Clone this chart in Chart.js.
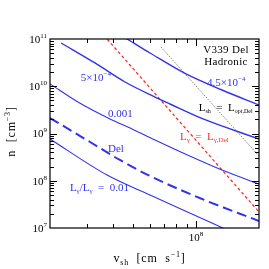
<!DOCTYPE html>
<html>
<head>
<meta charset="utf-8">
<script src="https://cdn.jsdelivr.net/npm/chart.js@4.4.1/dist/chart.umd.min.js"></script>
<style>
  html, body { margin: 0; padding: 0; background: #fff; }
  #wrap { width: 269px; height: 269px; }
</style>
</head>
<body>
<div id="wrap"><canvas id="shockChart" width="269" height="269"></canvas></div>
<script>
// shock velocity v_sh [cm/s] and density n [cm^-3]
const vRatio45 = [4.09e7, 4.67e7, 6.02e7, 8.95e7, 1.33e8, 2.0e8];
const nRatio45 = [1.41e11, 1.0e11, 5.06e10, 1.82e10, 8.33e9, 4.01e9];

const vRatio5 = [2.26e7, 3.28e7, 4.57e7, 6.36e7, 7.50e7, 1.08e8, 2.0e8];
const nRatio5 = [8.23e10, 3.11e10, 1.23e10, 5.92e9, 4.21e9, 2.03e9, 7.65e8];

const vRatio10 = [2.0e7, 2.72e7, 3.79e7, 5.05e7, 6.36e7, 8.66e7, 1.33e8, 2.0e8];
const nRatio10 = [1.12e10, 4.64e9, 2.13e9, 1.19e9, 7.29e8, 3.87e8, 1.69e8, 8.54e7];

const vDel = [2.0e7, 3.11e7, 4.32e7, 6.02e7, 1.04e8, 2.0e8];
const nDel = [2.13e9, 6.61e8, 2.75e8, 1.26e8, 4.31e7, 1.41e7];

const vRatio100 = [2.0e7, 3.75e7, 6.02e7, 1.19e8, 1.375e8];
const nRatio100 = [7.65e8, 1.32e8, 4.99e7, 1.28e7, 9.5e6];

const vGammaDel = [3.47e7, 2.0e8];
const nGammaDel = [1.48e11, 2.18e7];

const vShOpt = [6.79e7, 2.0e8];
const nShOpt = [6.77e10, 3.34e8];

// axis ranges and tick labels
const xMin = 2e7, xMax = 2e8;
const yMin = 1e7, yMax = 1e11;
const xMajorTicks = [1e8];
const xTickLabels = ['10^{8}'];
const yMajorTicks = [1e7, 1e8, 1e9, 1e10, 1e11];
const yTickLabels = ['10^{7}', '10^{8}', '10^{9}', '10^{10}', '10^{11}'];

const BLUE = 'rgb(50,50,238)';
const RED = 'rgb(255,45,45)';
const FONT = '"Liberation Serif", "Times New Roman", serif';

function pts(vs, ns) {
    return vs.map((v, i) => ({ x: v, y: ns[i] }));
}

// split "L_{sh} = 10^{-4}" into plain / sub / sup pieces
function parseRich(str) {
    const parts = [];
    const re = /([_^])\{([^}]*)\}|([^_^]+)/g;
    let m;
    while ((m = re.exec(str)) !== null) {
        if (m[3]) parts.push({ t: m[3], s: '' });
        else parts.push({ t: m[2], s: m[1] === '_' ? 'sub' : 'sup' });
    }
    return parts;
}

function drawRich(ctx, str, x, y, align, color, size, spacing, ratio) {
    const small = Math.round(size * (ratio || 0.65));
    const parts = parseRich(str);
    ctx.letterSpacing = (spacing || 0) + 'px';
    let w = 0;
    parts.forEach(p => {
        ctx.font = (p.s ? small : size) + 'px ' + FONT;
        w += ctx.measureText(p.t).width;
    });
    let cx = align === 'center' ? x - w / 2 : (align === 'right' ? x - w : x);
    ctx.fillStyle = color;
    ctx.textBaseline = 'middle';
    ctx.textAlign = 'left';
    parts.forEach(p => {
        ctx.font = (p.s ? small : size) + 'px ' + FONT;
        const dy = p.s === 'sub' ? size * 0.3 : (p.s === 'sup' ? -size * 0.35 : 0);
        ctx.fillText(p.t, cx, y + dy);
        cx += ctx.measureText(p.t).width;
    });
    ctx.letterSpacing = '0px';
}

// labels placed in data coordinates
const curveNotes = [
    { text: '5×10^{−4}', v: 2.81e7, n: 1.49e10, color: BLUE },
    { text: '0.001', v: 3.79e7, n: 2.59e9, color: BLUE },
    { text: 'Del', v: 3.79e7, n: 4.70e8, color: BLUE },
    { text: 'L_{γ}/L_{γ}  =  0.01', v: 2.49e7, n: 7.02e7, color: BLUE },
    { text: '4.5×10^{−4}', v: 1.128e8, n: 1.17e10, color: BLUE },
    { text: 'L_{sh}  =  L_{opt,Del}', v: 1.03e8, n: 3.46e9, color: '#000', ratio: 0.55 },
    { text: 'L_{γ}  =  L_{γ,Del}', v: 8.38e7, n: 8.43e8, color: RED, ratio: 0.6 }
];

// Frame, inward ticks and all the text
const framePlugin = {
    id: 'framePlugin',
    afterDraw(chart) {
        const { ctx, chartArea: a, scales: { x, y } } = chart;
        ctx.save();

        function seg(x1, y1, x2, y2) {
            ctx.beginPath();
            ctx.moveTo(x1, y1);
            ctx.lineTo(x2, y2);
            ctx.stroke();
        }

        ctx.strokeStyle = '#000';
        ctx.lineWidth = 1.2;
        ctx.strokeRect(a.left, a.top, a.right - a.left, a.bottom - a.top);

        ctx.lineWidth = 1;
        // x ticks, bottom and top
        for (let d = 7; d <= 8; d++) {
            for (let k = 1; k <= 9; k++) {
                const v = k * Math.pow(10, d);
                if (v <= xMin || v >= xMax) continue;
                const px = Math.round(x.getPixelForValue(v)) + 0.5;
                const len = k === 1 ? 7 : 4;
                seg(px, a.bottom, px, a.bottom - len);
                seg(px, a.top, px, a.top + len);
            }
        }
        // y ticks, left and right
        for (let d = 7; d <= 10; d++) {
            for (let k = 1; k <= 9; k++) {
                const v = k * Math.pow(10, d);
                if (v <= yMin || v >= yMax) continue;
                const py = Math.round(y.getPixelForValue(v)) + 0.5;
                const len = k === 1 ? 7 : 4;
                seg(a.left, py, a.left + len, py);
                seg(a.right, py, a.right - len, py);
            }
        }

        // tick labels
        xMajorTicks.forEach((v, i) => {
            drawRich(ctx, xTickLabels[i], x.getPixelForValue(v), a.bottom + 10, 'center', '#000', 11);
        });
        yMajorTicks.forEach((v, i) => {
            drawRich(ctx, yTickLabels[i], a.left - 3, y.getPixelForValue(v) + 1, 'right', '#000', 11);
        });

        // axis titles
        drawRich(ctx, 'v_{sh}  [cm  s^{−1}]', (a.left + a.right) / 2 - 5, a.bottom + 31, 'center', '#000', 12, 0.8);
        ctx.save();
        ctx.translate(12, (a.top + a.bottom) / 2 - 2);
        ctx.rotate(-Math.PI / 2);
        drawRich(ctx, 'n  [cm^{−3}]', 0, 0, 'center', '#000', 12, 0.8);
        ctx.restore();

        // curve notes
        curveNotes.forEach(c => {
            drawRich(ctx, c.text, x.getPixelForValue(c.v), y.getPixelForValue(c.n), 'left', c.color, 11, 0, c.ratio);
        });

        // model name
        drawRich(ctx, 'V339 Del', a.right - 33, a.top + 11, 'center', '#000', 11, 0.3);
        drawRich(ctx, 'Hadronic', a.right - 33, a.top + 23, 'center', '#000', 11, 0.3);

        ctx.restore();
    }
};

const shockChart = document.getElementById('shockChart');
if (shockChart) {
    new Chart(shockChart, {
        type: 'scatter',
        data: {
            datasets: [
                {
                    label: '4.5e-4',
                    data: pts(vRatio45, nRatio45),
                    borderColor: BLUE,
                    borderWidth: 1.4
                },
                {
                    label: '5e-4',
                    data: pts(vRatio5, nRatio5),
                    borderColor: BLUE,
                    borderWidth: 1.4
                },
                {
                    label: '0.001',
                    data: pts(vRatio10, nRatio10),
                    borderColor: BLUE,
                    borderWidth: 1.1
                },
                {
                    label: 'Del',
                    data: pts(vDel, nDel),
                    borderColor: BLUE,
                    borderWidth: 2,
                    borderDash: [10, 5]
                },
                {
                    label: '0.01',
                    data: pts(vRatio100, nRatio100),
                    borderColor: BLUE,
                    borderWidth: 1.1
                },
                {
                    label: 'L_gamma = L_gamma,Del',
                    data: pts(vGammaDel, nGammaDel),
                    borderColor: RED,
                    borderWidth: 1.3,
                    borderDash: [3, 2.5],
                    tension: 0
                },
                {
                    label: 'L_sh = L_opt,Del',
                    data: pts(vShOpt, nShOpt),
                    borderColor: '#333',
                    borderWidth: 0.8,
                    borderDash: [1, 1.5],
                    tension: 0
                }
            ]
        },
        options: {
            responsive: false,
            animation: false,
            showLine: true,
            elements: {
                point: { radius: 0, hoverRadius: 0 },
                line: { cubicInterpolationMode: 'monotone', fill: false }
            },
            layout: {
                padding: { left: 50, right: 10, top: 39, bottom: 41 }
            },
            scales: {
                x: { type: 'logarithmic', min: xMin, max: xMax, display: false },
                y: { type: 'logarithmic', min: yMin, max: yMax, display: false }
            },
            plugins: {
                legend: { display: false },
                tooltip: { enabled: false }
            }
        },
        plugins: [framePlugin]
    });
}
</script>
</body>
</html>
